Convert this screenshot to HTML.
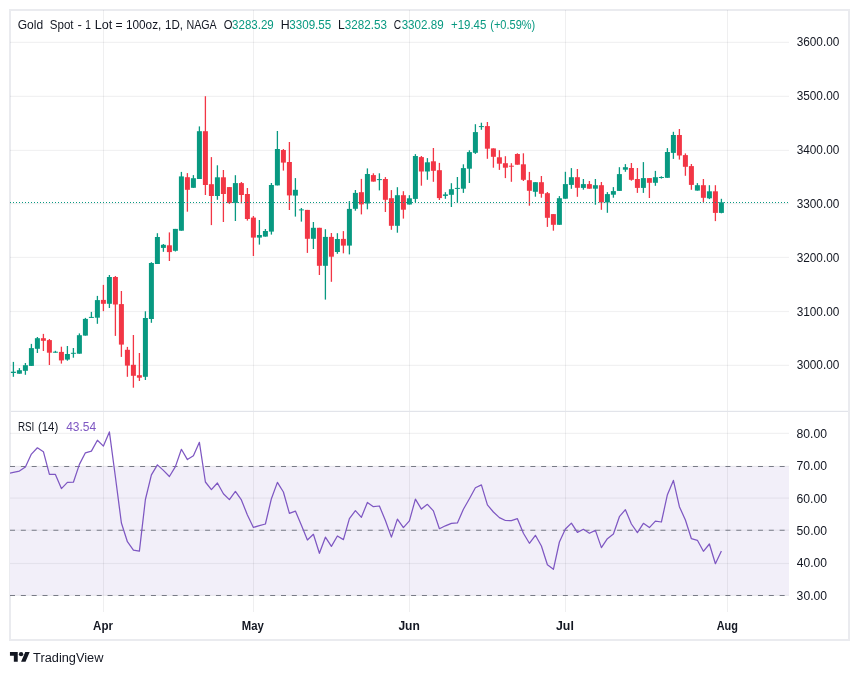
<!DOCTYPE html><html><head><meta charset="utf-8"><title>Gold Spot chart</title><style>
html,body{margin:0;padding:0;background:#fff;}body{width:859px;height:675px;overflow:hidden;position:relative;}
svg{position:absolute;left:0;top:0;will-change:transform;}
text{font-family:"Liberation Sans",sans-serif;}
</style></head><body>
<svg width="859" height="675" viewBox="0 0 859 675">
<defs><clipPath id="c1"><rect x="10" y="11" width="779" height="400"/></clipPath><clipPath id="c2"><rect x="10" y="412" width="779" height="200"/></clipPath></defs>
<rect x="10" y="10" width="839" height="630" fill="none" stroke="#eaebef" stroke-width="2"/>
<rect x="10" y="466.4" width="779" height="129.00" fill="#f2eff9"/>
<g fill="#2a2e39" fill-opacity="0.065">
<rect x="10" y="41.80" width="779" height="1.2"/>
<rect x="10" y="95.80" width="779" height="1.2"/>
<rect x="10" y="149.85" width="779" height="1.2"/>
<rect x="10" y="203.00" width="779" height="1.2"/>
<rect x="10" y="256.85" width="779" height="1.2"/>
<rect x="10" y="310.90" width="779" height="1.2"/>
<rect x="10" y="364.80" width="779" height="1.2"/>
<rect x="10" y="432.80" width="779" height="1.2"/>
<rect x="10" y="465.80" width="779" height="1.2"/>
<rect x="10" y="497.50" width="779" height="1.2"/>
<rect x="10" y="529.60" width="779" height="1.2"/>
<rect x="10" y="562.90" width="779" height="1.2"/>
<rect x="10" y="594.80" width="779" height="1.2"/>
<rect x="103" y="10" width="1" height="602" fill-opacity="0.075"/>
<rect x="253" y="10" width="1" height="602" fill-opacity="0.075"/>
<rect x="409" y="10" width="1" height="602" fill-opacity="0.075"/>
<rect x="565" y="10" width="1" height="602" fill-opacity="0.075"/>
<rect x="727" y="10" width="1" height="602" fill-opacity="0.075"/>
</g>
<line x1="10" y1="466.40" x2="789" y2="466.40" stroke="#787b86" stroke-width="1.05" stroke-dasharray="5 5.84"/>
<line x1="10" y1="530.20" x2="789" y2="530.20" stroke="#787b86" stroke-width="1.05" stroke-dasharray="5 5.84"/>
<line x1="10" y1="595.40" x2="789" y2="595.40" stroke="#787b86" stroke-width="1.05" stroke-dasharray="5 5.84"/>
<g clip-path="url(#c1)">
<rect x="12.75" y="361.90" width="1.3" height="14.90" fill="#089981"/>
<rect x="10.90" y="371.70" width="5" height="1.30" fill="#089981"/>
<rect x="18.75" y="368.10" width="1.3" height="5.60" fill="#089981"/>
<rect x="16.90" y="370.20" width="5" height="3.50" fill="#089981"/>
<rect x="24.75" y="363.00" width="1.3" height="11.80" fill="#089981"/>
<rect x="22.90" y="365.20" width="5" height="5.60" fill="#089981"/>
<rect x="30.75" y="343.90" width="1.3" height="22.00" fill="#089981"/>
<rect x="28.90" y="348.10" width="5" height="17.80" fill="#089981"/>
<rect x="36.75" y="337.00" width="1.3" height="16.00" fill="#089981"/>
<rect x="34.90" y="338.20" width="5" height="10.60" fill="#089981"/>
<rect x="42.75" y="333.90" width="1.3" height="17.10" fill="#F23645"/>
<rect x="40.90" y="338.20" width="5" height="2.60" fill="#F23645"/>
<rect x="48.75" y="339.00" width="1.3" height="26.00" fill="#F23645"/>
<rect x="46.90" y="340.10" width="5" height="12.60" fill="#F23645"/>
<rect x="54.75" y="350.80" width="1.3" height="1.90" fill="#089981"/>
<rect x="52.90" y="351.70" width="5" height="1.00" fill="#089981"/>
<rect x="60.75" y="346.70" width="1.3" height="16.90" fill="#F23645"/>
<rect x="58.90" y="351.90" width="5" height="8.50" fill="#F23645"/>
<rect x="66.75" y="346.00" width="1.3" height="14.70" fill="#089981"/>
<rect x="64.90" y="354.00" width="5" height="5.60" fill="#089981"/>
<rect x="72.75" y="348.00" width="1.3" height="9.70" fill="#089981"/>
<rect x="70.90" y="352.80" width="5" height="1.00" fill="#089981"/>
<rect x="78.75" y="333.40" width="1.3" height="20.30" fill="#089981"/>
<rect x="76.90" y="335.20" width="5" height="18.50" fill="#089981"/>
<rect x="84.75" y="317.90" width="1.3" height="17.70" fill="#089981"/>
<rect x="82.90" y="318.90" width="5" height="16.70" fill="#089981"/>
<rect x="90.75" y="311.90" width="1.3" height="6.00" fill="#089981"/>
<rect x="88.90" y="316.90" width="5" height="1.00" fill="#089981"/>
<rect x="96.75" y="295.90" width="1.3" height="27.90" fill="#089981"/>
<rect x="94.90" y="300.10" width="5" height="17.60" fill="#089981"/>
<rect x="102.75" y="284.90" width="1.3" height="26.20" fill="#F23645"/>
<rect x="100.90" y="299.90" width="5" height="3.90" fill="#F23645"/>
<rect x="108.75" y="275.00" width="1.3" height="33.00" fill="#089981"/>
<rect x="106.90" y="277.00" width="5" height="26.80" fill="#089981"/>
<rect x="114.75" y="276.00" width="1.3" height="59.90" fill="#F23645"/>
<rect x="112.90" y="277.00" width="5" height="27.50" fill="#F23645"/>
<rect x="120.75" y="291.00" width="1.3" height="65.90" fill="#F23645"/>
<rect x="118.90" y="304.10" width="5" height="40.50" fill="#F23645"/>
<rect x="126.75" y="346.90" width="1.3" height="29.90" fill="#F23645"/>
<rect x="124.90" y="349.80" width="5" height="15.80" fill="#F23645"/>
<rect x="132.75" y="335.00" width="1.3" height="52.70" fill="#F23645"/>
<rect x="130.90" y="364.80" width="5" height="11.00" fill="#F23645"/>
<rect x="138.75" y="353.00" width="1.3" height="28.00" fill="#F23645"/>
<rect x="136.90" y="375.20" width="5" height="2.50" fill="#F23645"/>
<rect x="144.75" y="311.30" width="1.3" height="68.70" fill="#089981"/>
<rect x="142.90" y="318.00" width="5" height="58.80" fill="#089981"/>
<rect x="150.75" y="262.20" width="1.3" height="60.60" fill="#089981"/>
<rect x="148.90" y="263.00" width="5" height="56.00" fill="#089981"/>
<rect x="156.75" y="233.20" width="1.3" height="30.80" fill="#089981"/>
<rect x="154.90" y="237.00" width="5" height="27.00" fill="#089981"/>
<rect x="162.75" y="244.00" width="1.3" height="7.80" fill="#089981"/>
<rect x="160.90" y="244.80" width="5" height="3.10" fill="#089981"/>
<rect x="168.75" y="232.40" width="1.3" height="28.60" fill="#F23645"/>
<rect x="166.90" y="245.30" width="5" height="6.80" fill="#F23645"/>
<rect x="174.75" y="228.90" width="1.3" height="22.60" fill="#089981"/>
<rect x="172.90" y="228.90" width="5" height="21.90" fill="#089981"/>
<rect x="180.75" y="171.90" width="1.3" height="58.80" fill="#089981"/>
<rect x="178.90" y="176.40" width="5" height="54.30" fill="#089981"/>
<rect x="186.75" y="173.10" width="1.3" height="38.60" fill="#F23645"/>
<rect x="184.90" y="177.20" width="5" height="12.60" fill="#F23645"/>
<rect x="192.75" y="175.10" width="1.3" height="12.70" fill="#089981"/>
<rect x="190.90" y="178.20" width="5" height="9.60" fill="#089981"/>
<rect x="198.75" y="126.40" width="1.3" height="52.60" fill="#089981"/>
<rect x="196.90" y="131.20" width="5" height="47.80" fill="#089981"/>
<rect x="204.75" y="96.20" width="1.3" height="98.80" fill="#F23645"/>
<rect x="202.90" y="131.20" width="5" height="53.80" fill="#F23645"/>
<rect x="210.75" y="157.10" width="1.3" height="68.00" fill="#F23645"/>
<rect x="208.90" y="184.20" width="5" height="11.80" fill="#F23645"/>
<rect x="216.75" y="165.30" width="1.3" height="34.50" fill="#089981"/>
<rect x="214.90" y="177.30" width="5" height="18.70" fill="#089981"/>
<rect x="222.75" y="170.00" width="1.3" height="52.00" fill="#F23645"/>
<rect x="220.90" y="177.30" width="5" height="16.70" fill="#F23645"/>
<rect x="228.75" y="187.10" width="1.3" height="16.80" fill="#F23645"/>
<rect x="226.90" y="187.10" width="5" height="15.80" fill="#F23645"/>
<rect x="234.75" y="175.20" width="1.3" height="45.80" fill="#089981"/>
<rect x="232.90" y="183.10" width="5" height="19.80" fill="#089981"/>
<rect x="240.75" y="182.00" width="1.3" height="21.30" fill="#F23645"/>
<rect x="238.90" y="183.10" width="5" height="11.90" fill="#F23645"/>
<rect x="246.75" y="188.00" width="1.3" height="32.60" fill="#F23645"/>
<rect x="244.90" y="194.00" width="5" height="25.00" fill="#F23645"/>
<rect x="252.75" y="216.00" width="1.3" height="40.00" fill="#F23645"/>
<rect x="250.90" y="217.60" width="5" height="20.00" fill="#F23645"/>
<rect x="258.75" y="220.00" width="1.3" height="24.60" fill="#089981"/>
<rect x="256.90" y="235.00" width="5" height="2.60" fill="#089981"/>
<rect x="264.75" y="229.00" width="1.3" height="7.60" fill="#089981"/>
<rect x="262.90" y="231.00" width="5" height="5.60" fill="#089981"/>
<rect x="270.75" y="183.00" width="1.3" height="51.60" fill="#089981"/>
<rect x="268.90" y="185.00" width="5" height="46.60" fill="#089981"/>
<rect x="276.75" y="131.00" width="1.3" height="54.40" fill="#089981"/>
<rect x="274.90" y="149.00" width="5" height="36.40" fill="#089981"/>
<rect x="282.75" y="149.00" width="1.3" height="21.60" fill="#F23645"/>
<rect x="280.90" y="150.00" width="5" height="12.60" fill="#F23645"/>
<rect x="288.75" y="142.00" width="1.3" height="68.00" fill="#F23645"/>
<rect x="286.90" y="162.00" width="5" height="33.40" fill="#F23645"/>
<rect x="294.75" y="178.10" width="1.3" height="38.50" fill="#089981"/>
<rect x="292.90" y="189.80" width="5" height="5.80" fill="#089981"/>
<rect x="300.75" y="208.00" width="1.3" height="13.60" fill="#089981"/>
<rect x="298.90" y="209.40" width="5" height="1.00" fill="#089981"/>
<rect x="306.75" y="209.90" width="1.3" height="43.00" fill="#F23645"/>
<rect x="304.90" y="209.90" width="5" height="28.90" fill="#F23645"/>
<rect x="312.75" y="222.00" width="1.3" height="27.00" fill="#089981"/>
<rect x="310.90" y="227.80" width="5" height="11.00" fill="#089981"/>
<rect x="318.75" y="227.80" width="1.3" height="47.20" fill="#F23645"/>
<rect x="316.90" y="227.80" width="5" height="38.00" fill="#F23645"/>
<rect x="324.75" y="229.20" width="1.3" height="70.40" fill="#089981"/>
<rect x="322.90" y="236.90" width="5" height="28.90" fill="#089981"/>
<rect x="330.75" y="233.00" width="1.3" height="48.80" fill="#F23645"/>
<rect x="328.90" y="236.90" width="5" height="19.80" fill="#F23645"/>
<rect x="336.75" y="233.20" width="1.3" height="20.60" fill="#089981"/>
<rect x="334.90" y="239.00" width="5" height="13.00" fill="#089981"/>
<rect x="342.75" y="231.10" width="1.3" height="22.20" fill="#F23645"/>
<rect x="340.90" y="238.90" width="5" height="6.70" fill="#F23645"/>
<rect x="348.75" y="201.10" width="1.3" height="53.30" fill="#089981"/>
<rect x="346.90" y="208.90" width="5" height="36.70" fill="#089981"/>
<rect x="354.75" y="190.00" width="1.3" height="20.70" fill="#089981"/>
<rect x="352.90" y="192.90" width="5" height="15.90" fill="#089981"/>
<rect x="360.75" y="178.90" width="1.3" height="35.50" fill="#F23645"/>
<rect x="358.90" y="192.20" width="5" height="12.20" fill="#F23645"/>
<rect x="366.75" y="168.40" width="1.3" height="40.90" fill="#089981"/>
<rect x="364.90" y="174.00" width="5" height="29.50" fill="#089981"/>
<rect x="372.75" y="173.30" width="1.3" height="8.30" fill="#F23645"/>
<rect x="370.90" y="175.10" width="5" height="6.50" fill="#F23645"/>
<rect x="378.75" y="173.30" width="1.3" height="17.10" fill="#089981"/>
<rect x="376.90" y="179.10" width="5" height="1.00" fill="#089981"/>
<rect x="384.75" y="177.10" width="1.3" height="34.90" fill="#F23645"/>
<rect x="382.90" y="179.00" width="5" height="20.80" fill="#F23645"/>
<rect x="390.75" y="190.10" width="1.3" height="39.70" fill="#F23645"/>
<rect x="388.90" y="198.20" width="5" height="27.60" fill="#F23645"/>
<rect x="396.75" y="187.20" width="1.3" height="45.50" fill="#089981"/>
<rect x="394.90" y="195.20" width="5" height="30.60" fill="#089981"/>
<rect x="402.75" y="191.20" width="1.3" height="27.40" fill="#F23645"/>
<rect x="400.90" y="195.20" width="5" height="14.50" fill="#F23645"/>
<rect x="408.75" y="195.20" width="1.3" height="9.30" fill="#089981"/>
<rect x="406.90" y="198.30" width="5" height="6.20" fill="#089981"/>
<rect x="414.75" y="154.10" width="1.3" height="48.20" fill="#089981"/>
<rect x="412.90" y="156.00" width="5" height="42.90" fill="#089981"/>
<rect x="420.75" y="156.00" width="1.3" height="29.70" fill="#F23645"/>
<rect x="418.90" y="157.10" width="5" height="14.40" fill="#F23645"/>
<rect x="426.75" y="158.10" width="1.3" height="21.70" fill="#089981"/>
<rect x="424.90" y="162.30" width="5" height="9.20" fill="#089981"/>
<rect x="432.75" y="148.00" width="1.3" height="33.80" fill="#F23645"/>
<rect x="430.90" y="161.30" width="5" height="9.50" fill="#F23645"/>
<rect x="438.75" y="162.90" width="1.3" height="37.10" fill="#F23645"/>
<rect x="436.90" y="170.20" width="5" height="27.90" fill="#F23645"/>
<rect x="444.75" y="192.20" width="1.3" height="6.60" fill="#089981"/>
<rect x="442.90" y="194.40" width="5" height="1.50" fill="#089981"/>
<rect x="450.75" y="183.20" width="1.3" height="23.80" fill="#089981"/>
<rect x="448.90" y="189.20" width="5" height="5.60" fill="#089981"/>
<rect x="456.75" y="177.00" width="1.3" height="25.80" fill="#089981"/>
<rect x="454.90" y="187.90" width="5" height="1.00" fill="#089981"/>
<rect x="462.75" y="164.30" width="1.3" height="28.60" fill="#089981"/>
<rect x="460.90" y="168.10" width="5" height="20.60" fill="#089981"/>
<rect x="468.75" y="150.30" width="1.3" height="32.70" fill="#089981"/>
<rect x="466.90" y="152.10" width="5" height="16.60" fill="#089981"/>
<rect x="474.75" y="124.20" width="1.3" height="29.70" fill="#089981"/>
<rect x="472.90" y="132.10" width="5" height="20.70" fill="#089981"/>
<rect x="480.75" y="122.70" width="1.3" height="7.10" fill="#089981"/>
<rect x="478.90" y="126.10" width="5" height="1.00" fill="#089981"/>
<rect x="486.75" y="122.00" width="1.3" height="36.80" fill="#F23645"/>
<rect x="484.90" y="126.10" width="5" height="22.60" fill="#F23645"/>
<rect x="492.75" y="148.40" width="1.3" height="19.30" fill="#F23645"/>
<rect x="490.90" y="148.40" width="5" height="8.40" fill="#F23645"/>
<rect x="498.75" y="150.20" width="1.3" height="19.70" fill="#F23645"/>
<rect x="496.90" y="157.30" width="5" height="6.40" fill="#F23645"/>
<rect x="504.75" y="156.20" width="1.3" height="21.90" fill="#F23645"/>
<rect x="502.90" y="163.20" width="5" height="4.50" fill="#F23645"/>
<rect x="510.75" y="163.20" width="1.3" height="18.60" fill="#F23645"/>
<rect x="508.90" y="165.70" width="5" height="1.00" fill="#F23645"/>
<rect x="516.75" y="153.30" width="1.3" height="11.40" fill="#F23645"/>
<rect x="514.90" y="154.00" width="5" height="10.70" fill="#F23645"/>
<rect x="522.75" y="153.30" width="1.3" height="27.70" fill="#F23645"/>
<rect x="520.90" y="164.30" width="5" height="15.50" fill="#F23645"/>
<rect x="528.75" y="171.90" width="1.3" height="33.80" fill="#F23645"/>
<rect x="526.90" y="180.20" width="5" height="10.60" fill="#F23645"/>
<rect x="534.75" y="182.20" width="1.3" height="14.50" fill="#089981"/>
<rect x="532.90" y="182.20" width="5" height="9.60" fill="#089981"/>
<rect x="540.75" y="176.00" width="1.3" height="21.70" fill="#F23645"/>
<rect x="538.90" y="182.20" width="5" height="11.60" fill="#F23645"/>
<rect x="546.75" y="192.00" width="1.3" height="34.90" fill="#F23645"/>
<rect x="544.90" y="193.20" width="5" height="24.60" fill="#F23645"/>
<rect x="552.75" y="214.10" width="1.3" height="16.60" fill="#F23645"/>
<rect x="550.90" y="214.10" width="5" height="10.70" fill="#F23645"/>
<rect x="558.75" y="196.10" width="1.3" height="28.70" fill="#089981"/>
<rect x="556.90" y="198.20" width="5" height="26.60" fill="#089981"/>
<rect x="564.75" y="171.80" width="1.3" height="26.90" fill="#089981"/>
<rect x="562.90" y="184.10" width="5" height="14.60" fill="#089981"/>
<rect x="570.75" y="168.10" width="1.3" height="20.70" fill="#089981"/>
<rect x="568.90" y="177.20" width="5" height="7.70" fill="#089981"/>
<rect x="576.75" y="169.00" width="1.3" height="27.80" fill="#F23645"/>
<rect x="574.90" y="177.20" width="5" height="10.60" fill="#F23645"/>
<rect x="582.75" y="179.00" width="1.3" height="10.70" fill="#089981"/>
<rect x="580.90" y="184.10" width="5" height="3.80" fill="#089981"/>
<rect x="588.75" y="181.00" width="1.3" height="7.70" fill="#F23645"/>
<rect x="586.90" y="184.10" width="5" height="4.60" fill="#F23645"/>
<rect x="594.75" y="179.00" width="1.3" height="25.70" fill="#089981"/>
<rect x="592.90" y="185.20" width="5" height="3.50" fill="#089981"/>
<rect x="600.75" y="182.00" width="1.3" height="27.80" fill="#F23645"/>
<rect x="598.90" y="185.20" width="5" height="17.30" fill="#F23645"/>
<rect x="606.75" y="192.10" width="1.3" height="20.70" fill="#089981"/>
<rect x="604.90" y="194.10" width="5" height="8.40" fill="#089981"/>
<rect x="612.75" y="187.10" width="1.3" height="10.60" fill="#089981"/>
<rect x="610.90" y="191.10" width="5" height="3.60" fill="#089981"/>
<rect x="618.75" y="167.20" width="1.3" height="23.70" fill="#089981"/>
<rect x="616.90" y="174.10" width="5" height="16.80" fill="#089981"/>
<rect x="624.75" y="164.10" width="1.3" height="7.70" fill="#089981"/>
<rect x="622.90" y="167.20" width="5" height="2.50" fill="#089981"/>
<rect x="630.75" y="163.00" width="1.3" height="17.70" fill="#F23645"/>
<rect x="628.90" y="168.00" width="5" height="11.80" fill="#F23645"/>
<rect x="636.75" y="168.00" width="1.3" height="24.90" fill="#F23645"/>
<rect x="634.90" y="179.00" width="5" height="8.90" fill="#F23645"/>
<rect x="642.75" y="162.10" width="1.3" height="30.80" fill="#089981"/>
<rect x="640.90" y="178.10" width="5" height="9.80" fill="#089981"/>
<rect x="648.75" y="178.10" width="1.3" height="19.90" fill="#F23645"/>
<rect x="646.90" y="178.10" width="5" height="4.70" fill="#F23645"/>
<rect x="654.75" y="170.90" width="1.3" height="14.90" fill="#089981"/>
<rect x="652.90" y="177.20" width="5" height="5.60" fill="#089981"/>
<rect x="660.75" y="176.30" width="1.3" height="2.30" fill="#089981"/>
<rect x="658.90" y="177.00" width="5" height="1.00" fill="#089981"/>
<rect x="666.75" y="148.10" width="1.3" height="29.70" fill="#089981"/>
<rect x="664.90" y="152.00" width="5" height="25.80" fill="#089981"/>
<rect x="672.75" y="131.80" width="1.3" height="27.10" fill="#089981"/>
<rect x="670.90" y="135.00" width="5" height="17.90" fill="#089981"/>
<rect x="678.75" y="129.00" width="1.3" height="30.60" fill="#F23645"/>
<rect x="676.90" y="135.00" width="5" height="20.50" fill="#F23645"/>
<rect x="684.75" y="153.40" width="1.3" height="22.40" fill="#F23645"/>
<rect x="682.90" y="155.10" width="5" height="11.70" fill="#F23645"/>
<rect x="690.75" y="164.00" width="1.3" height="25.80" fill="#F23645"/>
<rect x="688.90" y="166.10" width="5" height="18.80" fill="#F23645"/>
<rect x="696.75" y="183.10" width="1.3" height="7.50" fill="#089981"/>
<rect x="694.90" y="185.20" width="5" height="5.40" fill="#089981"/>
<rect x="702.75" y="179.00" width="1.3" height="23.30" fill="#F23645"/>
<rect x="700.90" y="185.20" width="5" height="12.60" fill="#F23645"/>
<rect x="708.75" y="185.20" width="1.3" height="13.90" fill="#089981"/>
<rect x="706.90" y="191.30" width="5" height="7.00" fill="#089981"/>
<rect x="714.75" y="185.20" width="1.3" height="35.90" fill="#F23645"/>
<rect x="712.90" y="191.30" width="5" height="21.60" fill="#F23645"/>
<rect x="720.75" y="198.80" width="1.3" height="14.50" fill="#089981"/>
<rect x="718.90" y="202.30" width="5" height="10.60" fill="#089981"/>
</g>
<line x1="10" y1="202.5" x2="789" y2="202.5" stroke="#089981" stroke-width="1.1" stroke-dasharray="1 2"/>
<g clip-path="url(#c2)"><polyline points="7.4,473.8 13.4,472.3 19.4,471.1 25.4,467.0 31.4,454.1 37.4,447.8 43.4,451.7 49.4,474.4 55.4,474.4 61.4,488.6 67.4,482.4 73.4,482.2 79.4,464.4 85.4,452.8 91.4,451.1 97.4,440.2 103.4,446.1 109.4,431.9 115.4,477.0 121.4,523.0 127.4,541.7 133.4,550.1 139.4,551.1 145.4,499.5 151.4,474.9 157.4,464.9 163.4,470.4 169.4,476.5 175.4,466.6 181.4,449.3 187.4,459.6 193.4,455.7 199.4,442.3 205.4,482.0 211.4,489.6 217.4,483.0 223.4,493.7 229.4,499.6 235.4,491.4 241.4,499.9 247.4,515.0 253.4,527.4 259.4,525.7 265.4,524.0 271.4,498.7 277.4,482.4 283.4,492.0 289.4,513.3 295.4,511.1 301.4,525.3 307.4,540.0 313.4,534.3 319.4,553.3 325.4,537.2 331.4,546.4 337.4,536.0 343.4,539.6 349.4,518.7 355.4,510.7 361.4,517.3 367.4,502.4 373.4,506.7 379.4,506.0 385.4,520.5 391.4,537.1 397.4,519.1 403.4,527.6 409.4,520.9 415.4,499.1 421.4,509.1 427.4,504.3 433.4,510.9 439.4,528.7 445.4,525.8 451.4,523.3 457.4,522.9 463.4,509.3 469.4,498.7 475.4,487.7 481.4,484.9 487.4,504.9 493.4,512.0 499.4,517.6 505.4,520.5 511.4,520.7 517.4,518.7 523.4,533.3 529.4,543.3 535.4,535.3 541.4,546.0 547.4,564.7 553.4,569.3 559.4,542.0 565.4,529.0 571.4,523.1 577.4,532.4 583.4,529.3 589.4,533.3 595.4,530.4 601.4,547.6 607.4,538.7 613.4,534.0 619.4,516.7 625.4,509.7 631.4,524.0 637.4,532.7 643.4,523.3 649.4,527.6 655.4,521.1 661.4,522.0 667.4,494.7 673.4,480.4 679.4,506.7 685.4,520.0 691.4,538.7 697.4,540.3 703.4,551.3 709.4,544.0 715.4,563.7 721.4,550.9" fill="none" stroke="#7e57c2" stroke-width="1.25" stroke-linejoin="round"/></g>
<rect x="11" y="410.80" width="837" height="1.2" fill="#e2e4ea"/>
<text x="796.66" y="45.65" font-size="12" fill="#131722" textLength="42.71" lengthAdjust="spacingAndGlyphs">3600.00</text>
<text x="796.66" y="99.55" font-size="12" fill="#131722" textLength="42.71" lengthAdjust="spacingAndGlyphs">3500.00</text>
<text x="796.66" y="153.65" font-size="12" fill="#131722" textLength="42.71" lengthAdjust="spacingAndGlyphs">3400.00</text>
<text x="796.66" y="208.00" font-size="12" fill="#131722" textLength="42.71" lengthAdjust="spacingAndGlyphs">3300.00</text>
<text x="796.66" y="261.85" font-size="12" fill="#131722" textLength="42.71" lengthAdjust="spacingAndGlyphs">3200.00</text>
<text x="796.66" y="315.85" font-size="12" fill="#131722" textLength="42.71" lengthAdjust="spacingAndGlyphs">3100.00</text>
<text x="796.66" y="368.80" font-size="12" fill="#131722" textLength="42.71" lengthAdjust="spacingAndGlyphs">3000.00</text>
<text x="796.58" y="437.65" font-size="12" fill="#131722" textLength="30.47" lengthAdjust="spacingAndGlyphs">80.00</text>
<text x="796.49" y="470.25" font-size="12" fill="#131722" textLength="30.57" lengthAdjust="spacingAndGlyphs">70.00</text>
<text x="796.49" y="502.85" font-size="12" fill="#131722" textLength="30.57" lengthAdjust="spacingAndGlyphs">60.00</text>
<text x="796.61" y="534.95" font-size="12" fill="#131722" textLength="30.44" lengthAdjust="spacingAndGlyphs">50.00</text>
<text x="796.83" y="566.95" font-size="12" fill="#131722" textLength="30.23" lengthAdjust="spacingAndGlyphs">40.00</text>
<text x="796.64" y="599.55" font-size="12" fill="#131722" textLength="30.41" lengthAdjust="spacingAndGlyphs">30.00</text>
<text x="93.11" y="629.90" font-size="12" font-weight="bold" fill="#131722" textLength="19.86" lengthAdjust="spacingAndGlyphs">Apr</text>
<text x="241.74" y="629.90" font-size="12" font-weight="bold" fill="#131722" textLength="22.02" lengthAdjust="spacingAndGlyphs">May</text>
<text x="398.42" y="629.90" font-size="12" font-weight="bold" fill="#131722" textLength="21.41" lengthAdjust="spacingAndGlyphs">Jun</text>
<text x="556.01" y="629.90" font-size="12" font-weight="bold" fill="#131722" textLength="17.85" lengthAdjust="spacingAndGlyphs">Jul</text>
<text x="716.73" y="629.90" font-size="12" font-weight="bold" fill="#131722" textLength="21.20" lengthAdjust="spacingAndGlyphs">Aug</text>
<text x="17.70" y="28.90" font-size="12" fill="#131722" textLength="25.38" lengthAdjust="spacingAndGlyphs">Gold</text>
<text x="49.78" y="28.90" font-size="12" fill="#131722" textLength="23.80" lengthAdjust="spacingAndGlyphs">Spot</text>
<text x="77.41" y="28.90" font-size="12" fill="#131722" textLength="4.35" lengthAdjust="spacingAndGlyphs">-</text>
<text x="85.14" y="28.90" font-size="12" fill="#131722" textLength="5.66" lengthAdjust="spacingAndGlyphs">1</text>
<text x="94.76" y="28.90" font-size="12" fill="#131722" textLength="17.54" lengthAdjust="spacingAndGlyphs">Lot</text>
<text x="115.53" y="28.90" font-size="12" fill="#131722" textLength="7.07" lengthAdjust="spacingAndGlyphs">=</text>
<text x="125.91" y="28.90" font-size="12" fill="#131722" textLength="35.45" lengthAdjust="spacingAndGlyphs">100oz,</text>
<text x="165.03" y="28.90" font-size="12" fill="#131722" textLength="18.03" lengthAdjust="spacingAndGlyphs">1D,</text>
<text x="186.42" y="28.90" font-size="12" fill="#131722" textLength="30.30" lengthAdjust="spacingAndGlyphs">NAGA</text>
<text x="223.76" y="28.90" font-size="12" fill="#131722" textLength="8.78" lengthAdjust="spacingAndGlyphs">O</text>
<text x="232.07" y="28.90" font-size="12" fill="#089981" textLength="41.68" lengthAdjust="spacingAndGlyphs">3283.29</text>
<text x="280.78" y="28.90" font-size="12" fill="#131722" textLength="8.94" lengthAdjust="spacingAndGlyphs">H</text>
<text x="289.26" y="28.90" font-size="12" fill="#089981" textLength="42.03" lengthAdjust="spacingAndGlyphs">3309.55</text>
<text x="338.01" y="28.90" font-size="12" fill="#131722" textLength="6.70" lengthAdjust="spacingAndGlyphs">L</text>
<text x="344.86" y="28.90" font-size="12" fill="#089981" textLength="42.06" lengthAdjust="spacingAndGlyphs">3282.53</text>
<text x="393.69" y="28.90" font-size="12" fill="#131722" textLength="7.39" lengthAdjust="spacingAndGlyphs">C</text>
<text x="401.66" y="28.90" font-size="12" fill="#089981" textLength="41.99" lengthAdjust="spacingAndGlyphs">3302.89</text>
<text x="450.95" y="28.90" font-size="12" fill="#089981" textLength="35.42" lengthAdjust="spacingAndGlyphs">+19.45</text>
<text x="490.21" y="28.90" font-size="12" fill="#089981" textLength="45.06" lengthAdjust="spacingAndGlyphs">(+0.59%)</text>
<text x="17.89" y="430.80" font-size="12" fill="#131722" textLength="16.42" lengthAdjust="spacingAndGlyphs">RSI</text>
<text x="37.89" y="430.80" font-size="12" fill="#131722" textLength="20.31" lengthAdjust="spacingAndGlyphs">(14)</text>
<text x="66.13" y="430.80" font-size="12" fill="#7e57c2" textLength="30.00" lengthAdjust="spacingAndGlyphs">43.54</text>
<g transform="translate(9.95,649.9) scale(0.556,0.535)" fill="#131722"><path d="M14 22H7V11H0V4h14v18zM28 22h-8l7.5-18h8L28 22z"/><circle cx="20" cy="8" r="4"/></g>
<text x="33.11" y="661.50" font-size="12.5" fill="#131722" textLength="70.26" lengthAdjust="spacingAndGlyphs">TradingView</text>
</svg></body></html>
